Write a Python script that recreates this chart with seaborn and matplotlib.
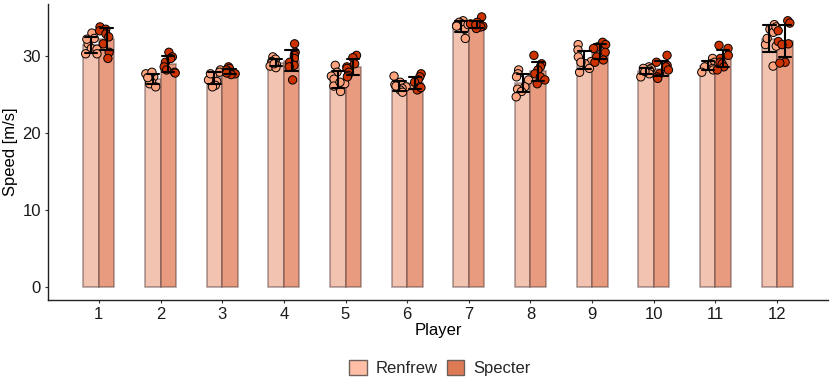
import numpy as np
import pandas as pd
import seaborn as sns
import matplotlib.pyplot as plt

# -------------------------------------------------------
# data (8 trials per rider and player)
# -------------------------------------------------------
players = [str(p) for p in range(1, 13)]
riders = ['Renfrew', 'Specter']

renfrew_speed = [
    [33.0, 32.3, 31.6, 31.0, 30.9, 30.3, 30.3, 32.2],
    [27.7, 27.3, 27.0, 26.6, 26.4, 26.0, 27.9, 27.2],
    [28.2, 27.9, 27.4, 26.9, 26.7, 26.2, 26.0, 27.7],
    [29.9, 29.6, 29.3, 29.1, 28.9, 28.7, 28.5, 29.0],
    [28.8, 27.9, 27.4, 27.0, 26.4, 26.1, 25.4, 26.6],
    [27.4, 26.6, 26.3, 26.0, 25.8, 25.6, 25.3, 26.1],
    [34.6, 34.4, 34.2, 34.0, 33.9, 33.5, 32.3, 34.1],
    [28.2, 27.7, 27.3, 26.9, 26.0, 25.7, 25.4, 24.7],
    [31.5, 30.8, 29.9, 29.3, 29.0, 28.4, 27.9, 29.2],
    [28.6, 28.4, 28.2, 27.9, 27.7, 27.3, 28.4, 28.0],
    [29.7, 29.2, 29.0, 28.8, 28.6, 28.4, 28.2, 27.9],
    [34.1, 33.5, 33.1, 31.5, 31.3, 28.7, 32.3, 33.8],
]
specter_speed = [
    [33.8, 33.5, 33.3, 32.9, 32.5, 31.6, 30.5, 29.7],
    [30.5, 29.9, 29.2, 28.6, 28.2, 27.9, 27.8, 29.7],
    [28.6, 28.4, 28.2, 27.9, 27.9, 27.7, 27.6, 27.8],
    [31.6, 30.5, 30.1, 29.7, 29.2, 28.8, 28.6, 26.9],
    [30.1, 29.8, 29.0, 28.6, 28.4, 27.9, 27.5, 27.3],
    [27.7, 27.3, 26.9, 26.6, 26.0, 25.7, 25.6, 25.9],
    [35.1, 34.4, 34.2, 34.0, 33.9, 33.8, 33.6, 34.1],
    [30.1, 29.0, 28.6, 28.2, 27.7, 27.3, 26.9, 26.4],
    [31.8, 31.5, 31.2, 31.0, 30.5, 29.9, 29.5, 29.2],
    [30.1, 29.2, 28.8, 28.6, 28.2, 27.7, 27.3, 27.1],
    [31.4, 31.0, 30.1, 29.7, 29.2, 29.0, 28.6, 28.2],
    [34.6, 34.3, 33.3, 31.9, 31.6, 31.5, 29.2, 29.1],
]

bar_colors = {'Renfrew': '#F2C3B0', 'Specter': '#E89B7F'}
point_colors = {'Renfrew': '#FFA47E', 'Specter': '#CC3300'}
legend_colors = ['#FFBFA6', '#DE7A55']

rows = []
for rider, speeds in zip(riders, [renfrew_speed, specter_speed]):
    for p, vals in zip(players, speeds):
        for v in vals:
            rows.append({'Player': p, 'Rider': rider, 'Speed': v})
df = pd.DataFrame(rows)

sns.set_style('ticks')
plt.rcParams['font.family'] = ['Liberation Sans', 'DejaVu Sans']

fig = plt.figure(figsize=(8.31, 3.83), dpi=100)
ax = fig.add_axes([48/831, 83/383, 780/831, 296.5/383])

sns.barplot(data=df, x='Player', y='Speed', hue='Rider', order=players, hue_order=riders,
            palette=bar_colors, errorbar='sd', capsize=0.4, width=0.5, saturation=1,
            edgecolor=(0.3, 0.2, 0.2, 0.5), linewidth=1.1,
            err_kws={'color': 'black', 'linewidth': 1.5, 'zorder': 4}, ax=ax)

np.random.seed(3)
n_before = len(ax.collections)
sns.stripplot(data=df, x='Player', y='Speed', hue='Rider', order=players, hue_order=riders,
              palette=point_colors, dodge=True, jitter=0.38, size=6,
              edgecolor='black', linewidth=0.7, legend=False, ax=ax, zorder=3)
# pull dodged points in to the narrower bars
for coll in ax.collections[n_before:]:
    off = coll.get_offsets().copy()
    c = np.round(off[:, 0])
    off[:, 0] = c + (off[:, 0] - c) * 0.625
    coll.set_offsets(off)

ax.set_xlim(-0.825, 11.825)
ax.set_ylim(-1.75, 36.85)
ax.set_yticks([0, 10, 20, 30])
sns.despine(ax=ax)
for s in ['left', 'bottom']:
    ax.spines[s].set_linewidth(1.0)
    ax.spines[s].set_color('#222222')
ax.tick_params(axis='both', length=2.5, width=0.8, color='#333333', labelsize=12,
               labelcolor='#1a1a1a', pad=2.5)
ax.set_xlabel('Player', fontsize=12, labelpad=1, color='black')
ax.set_ylabel('Speed [m/s]', fontsize=12, labelpad=3, color='black')

# legend below the plot
handles, labels = ax.get_legend_handles_labels()
ax.get_legend().remove()
for h, c in zip(handles, legend_colors):
    h.set_facecolor(c)
    h.set_edgecolor('#6e605b')
    h.set_linewidth(1.0)
fig.legend(handles, labels, loc='center', bbox_to_anchor=(440/831, 15/383), ncol=2,
           frameon=False, fontsize=12, handlelength=1.05, handleheight=1.05,
           handletextpad=0.55, columnspacing=0.55)

fig.savefig('out.png', dpi=100)
